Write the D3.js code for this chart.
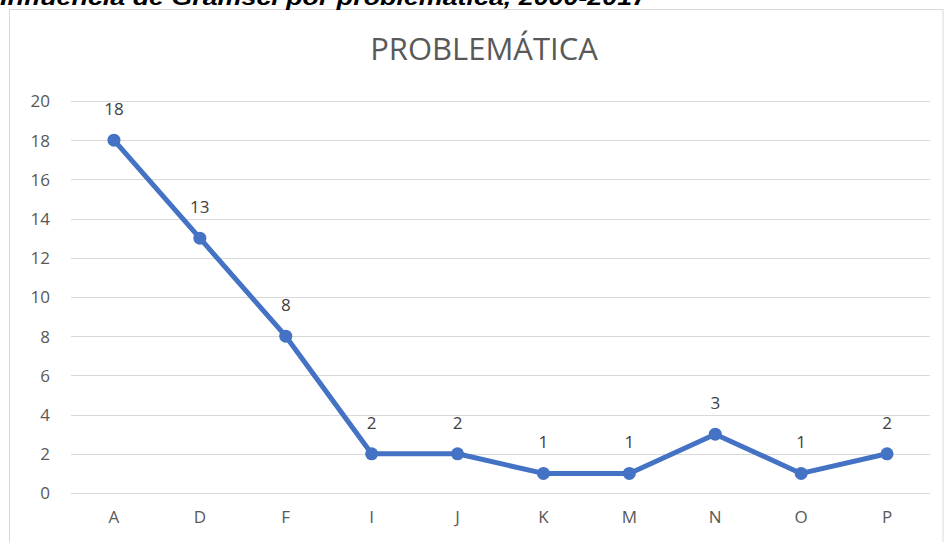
<!DOCTYPE html>
<html><head><meta charset="utf-8">
<script src="https://cdn.jsdelivr.net/npm/d3@7"></script>
<style>body{margin:0;background:#fff;}svg{display:block;}</style>
</head><body>
<svg id="c" width="945" height="542"></svg>
<script>
const categories = ["A","D","F","I","J","K","M","N","O","P"];
const values = [18,13,8,2,2,1,1,3,1,2];
const yTicks = [0,2,4,6,8,10,12,14,16,18,20];
const chartTitle = "PROBLEMÁTICA";
const caption = "Influência de Gramsci por problemática, 2000-2017";

const svg = d3.select("#c");
const plotLeft = 71, plotRight = 930, plotTop = 101, plotBottom = 493;

// frame
svg.append("rect").attr("x",9.5).attr("y",9.5).attr("width",933.5).attr("height",540)
  .attr("fill","#fff").attr("stroke","#d9d9d9").attr("stroke-width",1);

// caption (partly above the picture, as in the reference)
svg.append("text").attr("x",0).attr("y",5)
  .attr("font-family","'Liberation Sans', Arial, sans-serif")
  .attr("font-weight","bold").attr("font-style","italic")
  .attr("font-size",22).attr("fill","#000")
  .attr("textLength",647).attr("lengthAdjust","spacingAndGlyphs")
  .text(caption);

const x = d3.scaleBand().domain(categories).range([plotLeft,plotRight]);
const y = d3.scaleLinear().domain([0,20]).range([plotBottom,plotTop]);

// gridlines
svg.append("g").selectAll("line").data(yTicks).join("line")
  .attr("x1",plotLeft).attr("x2",plotRight)
  .attr("y1",d=>Math.round(y(d))+0.5).attr("y2",d=>Math.round(y(d))+0.5)
  .attr("stroke","#d9d9d9").attr("stroke-width",1);

const font = "'Open Sans', 'Noto Sans', sans-serif";

// y axis labels
const yAxis = d3.axisLeft(y).tickValues(yTicks).tickSize(0).tickPadding(0);
const gy = svg.append("g").attr("transform","translate(50,0)").call(yAxis);
gy.select(".domain").remove();
gy.selectAll("text").attr("font-family",font).attr("font-size",17).attr("fill","#595959").attr("dy","0.35em");

// x axis labels
const xAxis = d3.axisBottom(x).tickSize(0).tickPadding(0);
const gx = svg.append("g").attr("transform","translate(0,511)").call(xAxis);
gx.select(".domain").remove();
gx.selectAll("text").attr("font-family",font).attr("font-size",17).attr("fill","#595959").attr("dy","0.71em");

// title
svg.append("text").attr("x",484).attr("y",60).attr("text-anchor","middle")
  .attr("font-family",font).attr("font-size",31).attr("fill","#595959").text(chartTitle);

const cx = d => x(d) + x.bandwidth()/2;
const data = categories.map((c,i)=>({c, v: values[i]}));

const line = d3.line().x(d=>cx(d.c)).y(d=>y(d.v));
svg.append("path").datum(data).attr("d",line).attr("fill","none")
  .attr("stroke","#4472C4").attr("stroke-width",5).attr("stroke-linejoin","round").attr("stroke-linecap","round");

svg.append("g").selectAll("circle").data(data).join("circle")
  .attr("cx",d=>cx(d.c)).attr("cy",d=>y(d.v)).attr("r",6.5).attr("fill","#4472C4");

svg.append("g").selectAll("text").data(data).join("text")
  .attr("x",d=>cx(d.c)).attr("y",d=>y(d.v)-25).attr("text-anchor","middle")
  .attr("font-family",font).attr("font-size",17).attr("fill","#404040")
  .text(d=>d.v);
</script>
</body></html>
